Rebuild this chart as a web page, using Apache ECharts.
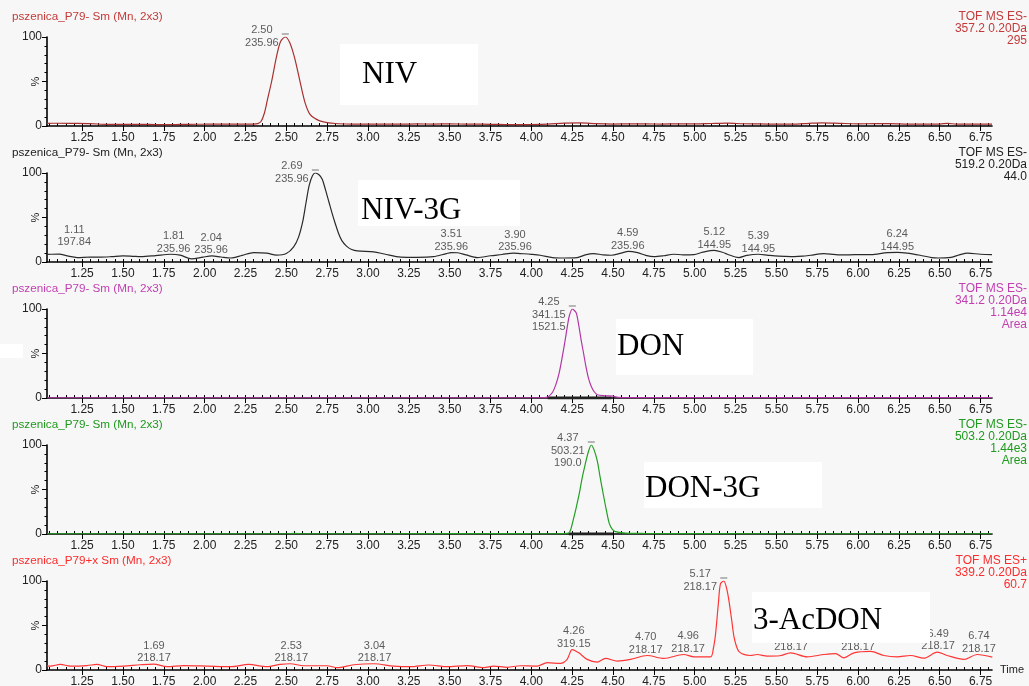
<!DOCTYPE html>
<html><head><meta charset="utf-8">
<script src="https://cdn.jsdelivr.net/npm/echarts@6/dist/echarts.min.js"></script>
<style>html,body{margin:0;padding:0;background:#f7f7f7}#c{width:1029px;height:686px}</style>
</head><body><div id="c"></div>
<script>
// ---------- data ----------
const xTickLabels = ['1.25','1.50','1.75','2.00','2.25','2.50','2.75','3.00','3.25','3.50','3.75','4.00','4.25','4.50','4.75','5.00','5.25','5.50','5.75','6.00','6.25','6.50','6.75'];
const panelTitles = ['pszenica_P79- Sm (Mn, 2x3)','pszenica_P79- Sm (Mn, 2x3)','pszenica_P79- Sm (Mn, 2x3)','pszenica_P79- Sm (Mn, 2x3)','pszenica_P79+x Sm (Mn, 2x3)'];
const panelInfo = ['TOF MS ES-\n357.2 0.20Da\n295','TOF MS ES-\n519.2 0.20Da\n44.0','TOF MS ES-\n341.2 0.20Da\n1.14e4\nArea','TOF MS ES-\n503.2 0.20Da\n1.44e3\nArea','TOF MS ES+\n339.2 0.20Da\n60.7'];
const compoundNames = ['NIV','NIV-3G','DON','DON-3G','3-AcDON'];

const nivTrace = [[1.035,3.0],[1.10,3.1],[1.20,2.9],[1.30,2.6],[1.40,1.9],[1.50,1.8],[1.60,1.9],[1.70,1.6],[1.80,1.5],[1.90,1.9],[2.00,2.0],[2.10,2.1],[2.20,2.0],[2.30,2.1],[2.325,2.6],[2.345,5],[2.365,14],[2.385,30],[2.41,50],[2.44,78],[2.465,95],[2.494,100],[2.52,94],[2.55,77],[2.585,49],[2.615,26],[2.645,13],[2.68,8],[2.71,5.5],[2.75,3.8],[2.80,2.8],[2.90,2.2],[3.00,2.0],[3.10,2.1],[3.20,2.0],[3.30,2.3],[3.40,2.2],[3.50,2.4],[3.60,2.1],[3.70,2.0],[3.80,1.8],[3.90,1.5],[4.00,1.7],[4.10,2.2],[4.20,3.3],[4.30,3.6],[4.40,2.6],[4.50,2.2],[4.60,2.4],[4.70,2.3],[4.80,2.2],[4.90,2.5],[5.00,2.4],[5.10,2.8],[5.20,3.2],[5.30,2.5],[5.40,2.3],[5.50,2.1],[5.60,2.0],[5.70,3.0],[5.78,3.6],[5.90,2.9],[6.00,2.5],[6.10,2.6],[6.20,2.7],[6.30,2.1],[6.40,2.0],[6.50,2.2],[6.55,3.0],[6.60,2.1],[6.70,2.0],[6.82,2.0]];

const niv3gTrace = [[1.035,8.5],[1.06,8.7],[1.11,8.9],[1.16,6.8],[1.22,5.0],[1.30,5.6],[1.36,5.5],[1.43,6.0],[1.50,6.8],[1.56,6.4],[1.61,6.0],[1.70,7.2],[1.79,8.7],[1.85,7.7],[1.92,3.4],[1.99,5.5],[2.045,6.8],[2.10,5.6],[2.16,4.5],[2.23,7.5],[2.30,10.6],[2.38,10.0],[2.44,7.7],[2.50,9.5],[2.545,17],[2.575,28],[2.60,45],[2.62,66],[2.64,86],[2.66,97],[2.678,100],[2.70,98],[2.72,93],[2.74,81],[2.76,68],[2.78,55],[2.80,43],[2.82,32],[2.84,24],[2.87,17.5],[2.90,14],[2.935,12.4],[3.035,11.3],[3.10,9],[3.20,5.5],[3.30,5.3],[3.40,6.0],[3.48,9.5],[3.51,10.6],[3.55,10.4],[3.60,8],[3.67,5.0],[3.75,7.0],[3.82,8.4],[3.89,10.0],[3.93,9.5],[4.00,8.6],[4.055,7.6],[4.13,5],[4.20,4.5],[4.28,4.9],[4.33,8],[4.38,9.5],[4.44,8],[4.49,7.6],[4.55,10],[4.595,12],[4.65,10.5],[4.70,7.5],[4.75,6.0],[4.81,7],[4.87,8.7],[4.93,8.1],[4.995,8.3],[5.05,11],[5.12,13],[5.17,11],[5.20,8.7],[5.27,5.0],[5.32,7.5],[5.39,8.7],[5.45,7.5],[5.49,6.8],[5.55,6.3],[5.61,6.0],[5.66,6.5],[5.71,7.6],[5.79,9.5],[5.85,8.6],[5.89,8.0],[5.98,8.2],[6.08,8.3],[6.18,10.6],[6.24,10.8],[6.30,10.0],[6.38,7.6],[6.45,5.0],[6.49,4.5],[6.57,5.3],[6.62,8],[6.67,10.0],[6.75,8.7],[6.82,8.3]];

const donTrace = [[1.035,0.3],[2.0,0.3],[3.0,0.3],[4.0,0.3],[4.08,0.4],[4.10,1.0],[4.13,6.5],[4.15,15],[4.17,28],[4.19,47],[4.207,65],[4.22,80],[4.232,92],[4.251,100],[4.265,98],[4.276,95],[4.29,82],[4.305,65],[4.32,50],[4.334,35.5],[4.35,22],[4.367,13],[4.385,7],[4.404,3.7],[4.45,2.5],[4.50,2.0],[4.53,0.8],[4.60,0.5],[5.0,0.4],[6.0,0.4],[6.82,0.4]];

const don3gTrace = [[1.035,0.3],[2.50,0.3],[2.55,0.8],[2.60,0.3],[3.0,0.3],[3.95,0.4],[4.0,0.3],[4.20,0.5],[4.232,1.5],[4.256,15.6],[4.275,30],[4.293,45],[4.31,62],[4.33,78.5],[4.35,93],[4.367,100],[4.385,94],[4.404,82],[4.42,65],[4.44,45],[4.46,26],[4.477,12],[4.495,5.5],[4.514,2.6],[4.576,1.0],[4.674,0.7],[4.75,0.4],[5.5,0.3],[6.82,0.3]];

const acdonTrace = [[1.035,4.6],[1.055,4.4],[1.117,6.3],[1.178,4.4],[1.28,5.0],[1.341,6.3],[1.402,3.7],[1.504,4.4],[1.606,5.9],[1.688,6.7],[1.77,3.7],[1.872,5.0],[2.015,4.4],[2.158,3.7],[2.27,6.3],[2.382,3.7],[2.464,6.3],[2.525,7.0],[2.606,4.8],[2.75,4.8],[2.811,2.6],[2.913,5.9],[3.035,7.0],[3.158,4.4],[3.26,3.7],[3.372,5.6],[3.484,3.7],[3.607,5.0],[3.709,2.6],[3.77,4.4],[3.852,3.0],[3.933,4.8],[4.036,4.4],[4.097,8.2],[4.178,7.4],[4.219,11.9],[4.25,23],[4.29,19.3],[4.342,11.9],[4.403,8.9],[4.454,13],[4.526,10],[4.607,11.9],[4.709,16.3],[4.811,13],[4.933,17.4],[4.995,14.8],[5.097,14.8],[5.115,25],[5.128,41],[5.145,75],[5.158,97],[5.178,100],[5.195,92],[5.209,78.6],[5.225,58],[5.24,37.8],[5.255,27],[5.27,21],[5.30,17.5],[5.342,16.3],[5.383,17.4],[5.444,15.6],[5.52,16],[5.587,19.3],[5.689,14.8],[5.791,17.4],[5.862,18.5],[5.913,13.7],[5.975,19.3],[6.077,21],[6.158,16.3],[6.24,14.8],[6.321,16.3],[6.403,13.3],[6.485,20],[6.546,16.3],[6.648,11.9],[6.73,17.4],[6.822,14.4]];

// main peak annotations: [time, intensity, label]
const nivApex = [[2.494,100,'2.50\n235.96']];
const niv3gApex = [[2.678,100,'2.69\n235.96']];
const donApex = [[4.251,100,'4.25\n341.15\n1521.5']];
const don3gApex = [[4.367,100,'4.37\n503.21\n190.0']];
const acdonApex = [[5.178,100,'5.17\n218.17']];

// minor peak annotations: [time, intensity, label]
const nivMinor = [];
const niv3gMinor = [[1.11,8.9,'1.11\n197.84'],[1.81,8.6,'1.81\n235.96'],[2.04,6.8,'2.04\n235.96'],[3.51,10.6,'3.51\n235.96'],[3.90,10.0,'3.90\n235.96'],[4.59,12,'4.59\n235.96'],[5.12,13,'5.12\n144.95'],[5.39,8.7,'5.39\n144.95'],[6.24,10.8,'6.24\n144.95']];
const donMinor = [];
const don3gMinor = [];
const acdonMinor = [[1.69,6.7,'1.69\n218.17'],[2.53,7.0,'2.53\n218.17'],[3.04,7.0,'3.04\n218.17'],[4.26,23,'4.26\n319.15'],[4.70,16.3,'4.70\n218.17'],[4.96,17.4,'4.96\n218.17'],[5.59,19.3,'5.59\n218.17'],[6.00,19.3,'6.00\n218.17'],[6.49,20,'6.49\n218.17'],[6.74,17.4,'6.74\n218.17']];

// integrated peak ranges (baseline)
const donArea = [4.10, 4.49];
const don3gArea = [4.23, 4.50];

// ---------- layout / style ----------
const FONT = "'Liberation Sans', Arial, sans-serif";
const tops = [37, 173, 309, 445, 581];
const gridH = 89;
const titleColors = ['#c43a3a', '#222222', '#c23fb2', '#1f9a1f', '#ff2b2b'];
const lineColors = ['#a83030', '#2a2a2a', '#b436a6', '#22a022', '#ff3535'];
const traces = [nivTrace, niv3gTrace, donTrace, don3gTrace, acdonTrace];
const apexes = [nivApex, niv3gApex, donApex, don3gApex, acdonApex];
const minors = [nivMinor, niv3gMinor, donMinor, don3gMinor, acdonMinor];
const areas = [null, null, donArea, don3gArea, null];
const boxes = [
  {x:340, y:44, w:138, h:61, tx:362, ty:75},
  {x:358, y:180, w:162, h:46, tx:361, ty:211},
  {x:616, y:319, w:137, h:56, tx:617, ty:347},
  {x:644, y:462, w:178, h:46, tx:645, ty:489},
  {x:752, y:592, w:178, h:51, tx:753, ty:621}
];
const labelNudges = {'1.11\n197.84': [15, -6]};

const XMIN = 1.035, XMAX = 6.82;
const majorTicks = xTickLabels.map(Number);
const minorTicks = [];
for (let k = 21; k <= 136; k++) minorTicks.push(Math.round(k * 5) / 100);

const grids = [], xAxes = [], yAxes = [], series = [], graphics = [];
for (let i = 0; i < 5; i++) {
  grids.push({left: 47, right: 37, top: tops[i], height: gridH, containLabel: false, outerBoundsMode: 'none'});
  xAxes.push({
    gridIndex: i, type: 'value', min: XMIN, max: XMAX,
    axisLine: {show: true, onZero: false, lineStyle: {color: '#000', width: 1.6}},
    axisTick: {show: true, customValues: majorTicks, length: 5, lineStyle: {color: '#000', width: 1}},
    axisLabel: {show: true, customValues: majorTicks, margin: 6, fontSize: 12, color: '#222', fontFamily: FONT,
      formatter: v => { const idx = majorTicks.findIndex(m => Math.abs(m - v) < 1e-6); return idx >= 0 ? xTickLabels[idx] : ''; }},
    splitLine: {show: false},
    name: i === 4 ? 'Time' : '', nameLocation: 'end', nameGap: 8, nameMoveOverlap: false,
    nameTextStyle: {fontSize: 11, color: '#222', fontFamily: FONT}
  });
  xAxes.push({
    gridIndex: i, type: 'value', min: XMIN, max: XMAX,
    axisLine: {show: false},
    axisTick: {show: true, customValues: minorTicks, length: 3, lineStyle: {color: '#000', width: 1}},
    axisLabel: {show: false}, splitLine: {show: false}
  });
  yAxes.push({
    gridIndex: i, type: 'value', min: 0, max: 100, interval: 50,
    axisLine: {show: true, lineStyle: {color: '#000', width: 1.6}},
    axisTick: {show: true, length: 5, lineStyle: {color: '#000'}},
    minorTick: {show: true, splitNumber: 5, length: 2.5, lineStyle: {color: '#000'}},
    axisLabel: {fontSize: 12, color: '#222', margin: 5, fontFamily: FONT, formatter: v => v === 50 ? '' : String(v)},
    splitLine: {show: false},
    name: '%', nameLocation: 'middle', nameRotate: 90, nameGap: 6, nameMoveOverlap: false,
    nameTextStyle: {fontSize: 11, color: '#222', fontFamily: FONT}
  });

  if (areas[i]) {
    series.push({type: 'line', xAxisIndex: 2 * i, yAxisIndex: i, data: [[areas[i][0], 0], [areas[i][1], 0]],
      showSymbol: false, silent: true, z: 2, lineStyle: {color: '#222', width: 3}});
  }
  series.push({type: 'line', xAxisIndex: 2 * i, yAxisIndex: i, data: traces[i], showSymbol: false,
    smooth: 0.3, z: 3, lineStyle: {color: lineColors[i], width: 1.2}});
  series.push({type: 'scatter', xAxisIndex: 2 * i, yAxisIndex: i, z: 4, silent: true,
    symbol: 'rect', symbolSize: [7, 1], symbolOffset: [0, -3], itemStyle: {color: '#555'},
    data: apexes[i].map(a => [a[0], a[1]])});
  series.push({type: 'scatter', xAxisIndex: 2 * i, yAxisIndex: i, z: 4, silent: true,
    symbolSize: 1, itemStyle: {color: 'rgba(0,0,0,0)'},
    data: apexes[i].map(a => ({value: [a[0], a[1]], name: a[2]})),
    label: {show: true, formatter: p => p.name, position: [-23, -12.5], align: 'center', verticalAlign: 'top',
      fontSize: 11, lineHeight: 12.5, color: '#333', fontFamily: FONT}});
  series.push({type: 'scatter', xAxisIndex: 2 * i, yAxisIndex: i, z: 4, silent: true,
    symbolSize: 1, itemStyle: {color: 'rgba(0,0,0,0)'},
    data: minors[i].map(a => {
      const item = {value: [a[0], a[1]], name: a[2]};
      if (labelNudges[a[2]]) item.label = {offset: labelNudges[a[2]]};
      return item;
    }),
    label: {show: true, formatter: p => p.name, position: 'top', distance: -1, align: 'center',
      fontSize: 11, lineHeight: 12.5, color: '#333', fontFamily: FONT}});

  graphics.push({type: 'text', x: 12, y: tops[i] - 20, z: 10,
    style: {text: panelTitles[i], fill: titleColors[i], font: '11.7px ' + FONT, verticalAlign: 'middle', align: 'left'}});
  graphics.push({type: 'text', x: 1027, y: tops[i] - 26, z: 10,
    style: {text: panelInfo[i], fill: titleColors[i], font: '12px ' + FONT,
      align: 'right', verticalAlign: 'top', lineHeight: 12}});
  const b = boxes[i];
  graphics.push({type: 'rect', shape: {x: b.x, y: b.y, width: b.w, height: b.h}, z: 20, style: {fill: '#ffffff'}});
  graphics.push({type: 'text', x: b.tx, y: b.ty, z: 21,
    style: {text: compoundNames[i], fill: '#000', font: "31px 'Liberation Serif', 'Times New Roman', serif",
      align: 'left', verticalAlign: 'middle'}});
}
graphics.push({type: 'rect', shape: {x: 0, y: 344, width: 23, height: 14}, z: 20, style: {fill: '#ffffff'}});

const chart = echarts.init(document.getElementById('c'), null, {renderer: 'canvas'});
chart.setOption({
  backgroundColor: '#f7f7f7',
  animation: false,
  grid: grids, xAxis: xAxes, yAxis: yAxes, series: series, graphic: graphics
});
</script></body></html>
